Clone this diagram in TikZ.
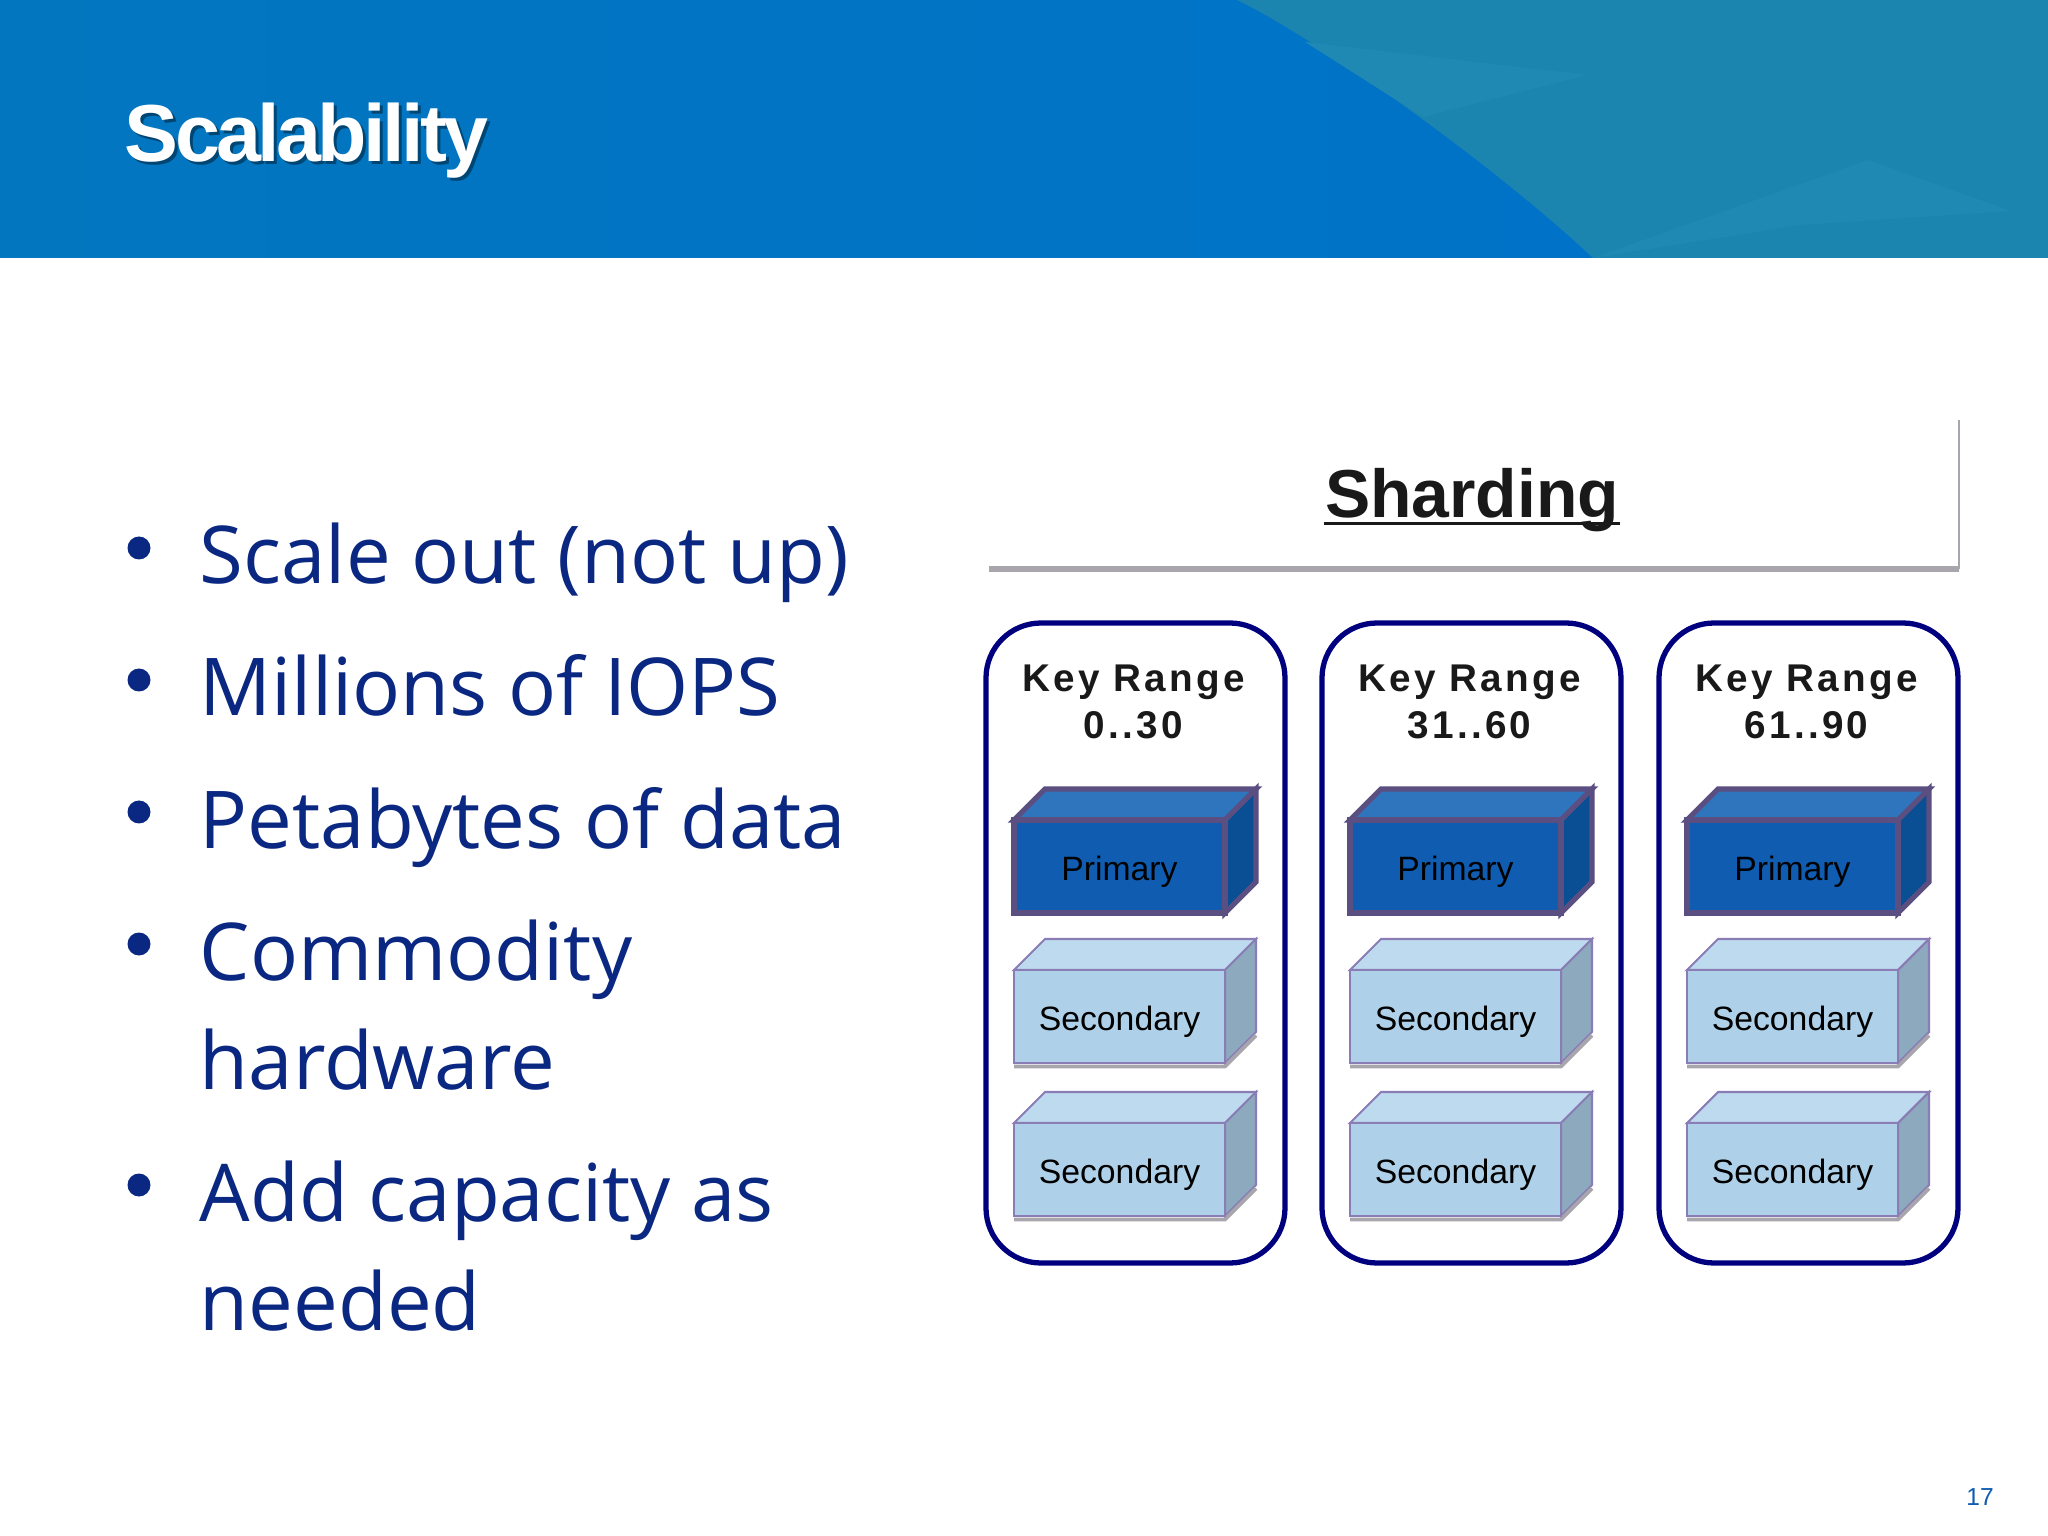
\documentclass[tikz,border=0pt]{standalone}
\usepackage{fontspec}
\setmainfont{Liberation Sans}
\newfontfamily\bulletfont{Open Sans}
\newfontfamily\titlefont[LetterSpace=-4.5]{Liberation Sans}
\newfontfamily\keyfont[LetterSpace=8.5]{Liberation Sans}
\usetikzlibrary{positioning}
\definecolor{headblue}{HTML}{0276BF}
\definecolor{headmid}{HTML}{0073C8}
\definecolor{headteal}{HTML}{1C85AF}
\definecolor{headfacet}{HTML}{1F88B3}
\definecolor{bullettext}{HTML}{0A2782}
\definecolor{rangeblue}{HTML}{00007F}
\definecolor{rulegray}{HTML}{A8A6AC}
\definecolor{primaryedge}{HTML}{5B4E80}
\definecolor{primaryfront}{HTML}{0F5CB0}
\definecolor{primarytop}{HTML}{2E75BE}
\definecolor{primaryside}{HTML}{0A4E94}
\definecolor{secondaryedge}{HTML}{8A7DB5}
\definecolor{secondaryfront}{HTML}{AED0E8}
\definecolor{secondarytop}{HTML}{BDDAEE}
\definecolor{secondaryside}{HTML}{8CA9BE}
\tikzset{
    crate/.style n args={5}{
        rectangle, draw=#1, fill=#2, line width=#5,
        minimum width=2.11cm, minimum height=0.93cm,
        inner sep=0pt, outer sep=0pt, text=black,
        text height=0.27cm, text depth=0pt,
        font=\fontsize{9.6}{11}\selectfont,
        append after command={
            \pgfextra{
                \draw[#1,fill=#3,line width=#5,line join=miter]
                (\tikzlastnode.north west) -- ++(0.31,0.31) -- ++(2.11,0) --
                (\tikzlastnode.north east) -- cycle;
                \draw[#1,fill=#4,line width=#5,line join=miter]
                (\tikzlastnode.north east) -- ++(0.31,0.31) -- ++(0,-0.93) --
                (\tikzlastnode.south east) -- cycle;
            }
        }
    },
    primarybox/.style={
        crate={primaryedge}{primaryfront}{primarytop}{primaryside}{1.5pt}
    },
    secondarybox/.style={
        crate={secondaryedge}{secondaryfront}{secondarytop}{secondaryside}{0.6pt},
        append after command={
            \pgfextra{
                \draw[rulegray,line width=1.1pt]
                ([yshift=-0.035cm]\tikzlastnode.south west) --
                ([yshift=-0.035cm]\tikzlastnode.south east) -- ++(0.31,0.31);
            }
        }
    }
}

\begin{document}
\begin{tikzpicture}[
        rangebox/.style={
            draw=rangeblue, line width=1.5pt, rectangle,
            rounded corners=0.55cm, fill=white,
            minimum width=2.99cm, minimum height=6.40cm,
            inner sep=0pt, outer sep=0pt
        },
        keylabel/.style={
            font=\keyfont\bfseries\fontsize{11}{13.3}\selectfont,
            align=center, inner sep=0pt, text=black!90
        },
        item/.style={
            font=\bulletfont\fontsize{22.7}{30.7}\selectfont,
            text=bullettext, anchor=base west, align=left, inner sep=0pt
        },
        dot/.style={circle, fill=bullettext, minimum size=0.23cm, inner sep=0pt}
      ]

  \useasboundingbox (0,0) rectangle (20.48,-15.36);
  \fill[white] (0,0) rectangle (20.48,-15.36);

  % header band
  \shade[left color=headblue, right color=headmid] (0,0) rectangle (15.93,-2.58);
  \fill[headteal] (12.37,0) .. controls (13.2,-0.4) and (15.0,-1.7) .. (15.93,-2.58)
      -- (20.48,-2.58) -- (20.48,0) -- cycle;
  \fill[headfacet] (13.05,-0.42) -- (15.87,-0.75) -- (14.23,-1.17) -- cycle;
  \fill[headfacet] (18.68,-1.60) -- (20.11,-2.11) -- (18.0,-2.25) -- (15.93,-2.58) -- cycle;

  \node[anchor=base west, inner sep=0pt, text=black, opacity=0.4,
        font=\titlefont\bfseries\fontsize{23}{28}\selectfont] (TS) at (1.27,-1.65) {Scalability};
  \node[anchor=base west, inner sep=0pt, text=white,
        font=\titlefont\bfseries\fontsize{23}{28}\selectfont] (T) at (1.24,-1.62) {Scalability};

  % bullets
  \node[item] (I1) at (1.99,-5.84) {Scale out (not up)};
  \node[item] (I2) at (1.99,-7.16) {Millions of IOPS};
  \node[item] (I3) at (1.99,-8.48) {Petabytes of data};
  \node[item] (I4) at (1.99,-9.80) {Commodity};
  \node[item] (I5) at (1.99,-10.89) {hardware};
  \node[item] (I6) at (1.99,-12.21) {Add capacity as};
  \node[item] (I7) at (1.99,-13.30) {needed};

  \node[dot] (D1) at (1.39,-5.48) {};
  \node[dot] (D2) at (1.39,-6.80) {};
  \node[dot] (D3) at (1.39,-8.12) {};
  \node[dot] (D4) at (1.39,-9.44) {};
  \node[dot] (D5) at (1.39,-11.85) {};

  % sharding title
  \node[inner sep=0pt, text=black!90, font=\bfseries\fontsize{19.3}{23}\selectfont]
      (S) at (14.72,-5.00) {Sharding};
  \draw[black!90, line width=0.9pt] ([yshift=-0.06cm]S.base west) -- ([yshift=-0.06cm]S.base east);
  \coordinate (RA) at (9.89,-5.69);
  \coordinate (RB) at (19.59,-5.69);
  \coordinate (RC) at (19.59,-4.20);
  \draw[rulegray, line width=1.6pt] (RA) -- (RB);
  \draw[rulegray, line width=0.8pt] (RB) -- (RC);

  % shards
  \node[rangebox] (R1) at (11.355,-9.43) {};
  \node[rangebox] (R2) [right=0.37cm of R1] {};
  \node[rangebox] (R3) [right=0.38cm of R2] {};

  \node[keylabel] (K1) [below=0.41cm of R1.north, xshift=-0.02cm] {Key Range\\0..30};
  \node[keylabel] (K2) [below=0.41cm of R2.north, xshift=-0.02cm] {Key Range\\31..60};
  \node[keylabel] (K3) [below=0.41cm of R3.north, xshift=-0.02cm] {Key Range\\61..90};

  \node[primarybox] (P1) [below=1.97cm of R1.north, xshift=-0.16cm] {Primary};
  \node[primarybox] (P2) [below=1.97cm of R2.north, xshift=-0.16cm] {Primary};
  \node[primarybox] (P3) [below=1.97cm of R3.north, xshift=-0.16cm] {Primary};

  \node[secondarybox] (A1) [below=0.57cm of P1] {Secondary};
  \node[secondarybox] (A2) [below=0.57cm of P2] {Secondary};
  \node[secondarybox] (A3) [below=0.57cm of P3] {Secondary};

  \node[secondarybox] (B1) [below=0.60cm of A1] {Secondary};
  \node[secondarybox] (B2) [below=0.60cm of A2] {Secondary};
  \node[secondarybox] (B3) [below=0.60cm of A3] {Secondary};

  \node[inner sep=0pt, text=primaryfront, font=\fontsize{7}{8}\selectfont] (N) at (19.80,-14.97) {17};

\end{tikzpicture}
\end{document}
